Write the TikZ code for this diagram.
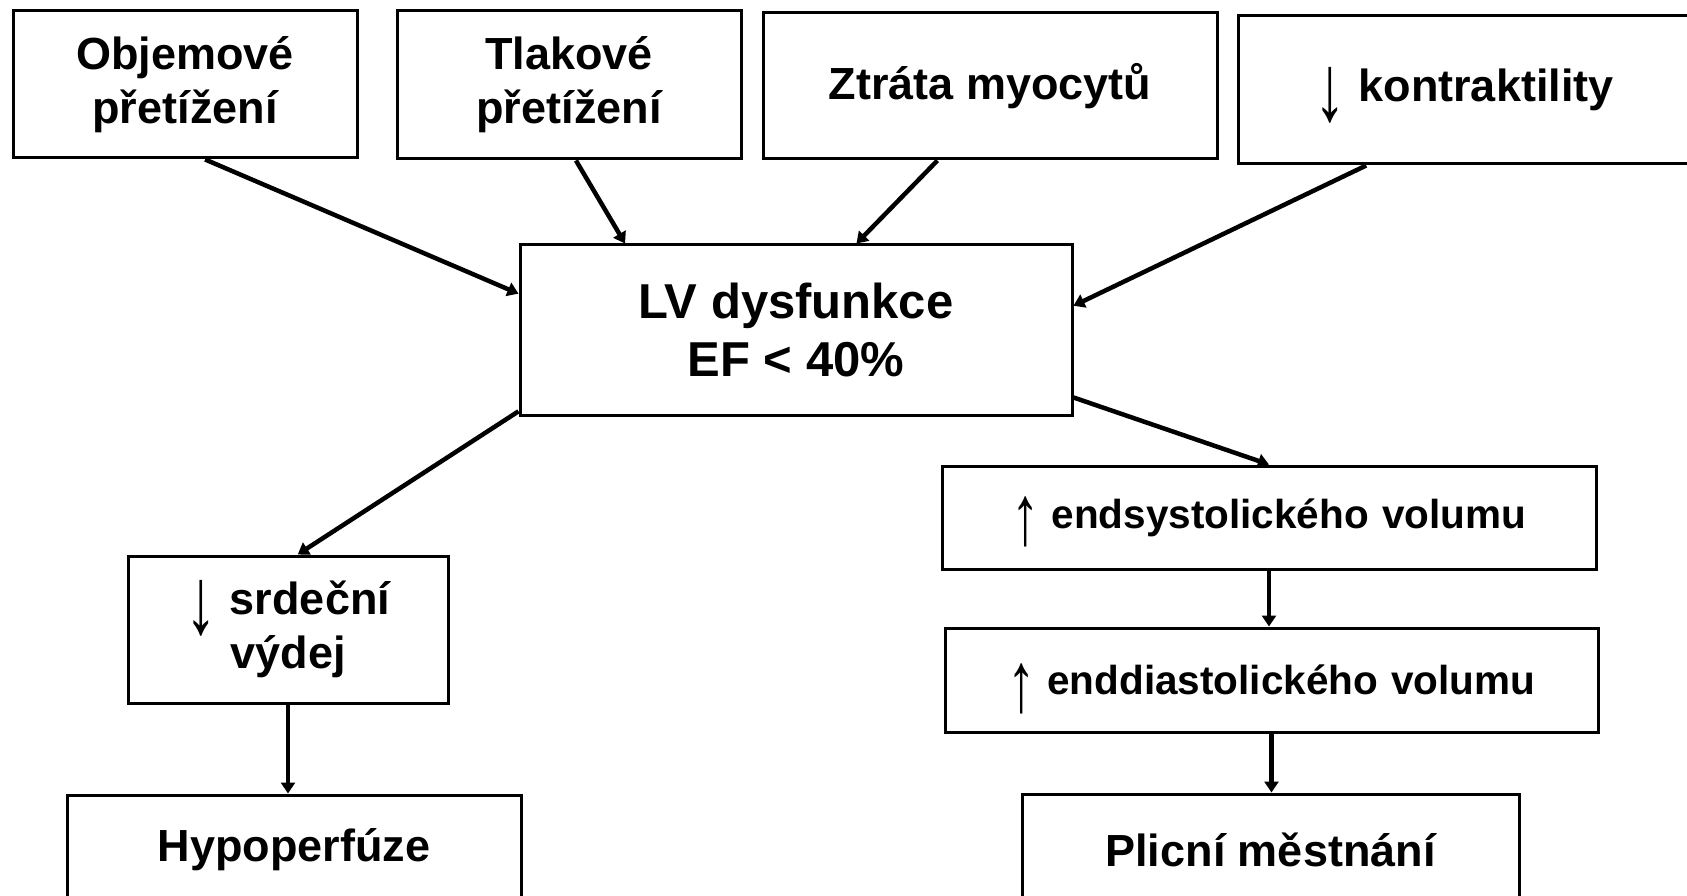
\documentclass[tikz,border=0pt]{standalone}
\usepackage{fontspec}
\usepackage{graphicx}
\setmainfont{Liberation Sans}
\usetikzlibrary{calc,arrows.meta}
% tall thin arrow glyphs, centred on the x-height, not affecting line height
\newcommand{\tallarrow}[1]{\smash{$\vcenter{\hbox{\scalebox{1.4}[2.1]{\mdseries #1}}}$}}
\newcommand{\uparr}{\tallarrow{↑}}
\newcommand{\downarr}{\tallarrow{↓}}
\begin{document}
\begin{tikzpicture}[x=1pt,y=-1pt,
  box/.style={draw=black,line width=3pt,align=center,inner sep=0pt,
    font=\bfseries\fontsize{45}{54}\selectfont},
  bigbox/.style={box,font=\bfseries\fontsize{49}{58}\selectfont},
  volbox/.style={box,font=\bfseries\fontsize{40.5}{48}\selectfont},
  conn/.style={line width=4.5pt,-{Triangle[length=11pt,width=14pt]}}]
\useasboundingbox (0,0) rectangle (1687,896);
\clip (0,0) rectangle (1687,896);

% causes
\node[box,minimum width=344pt,minimum height=147pt] (obj) at (185,84.5) {Objemové\\přetížení};
\node[box,minimum width=344pt,minimum height=148pt] (tlak) at (569,85) {Tlakové\\přetížení};
\node[box,minimum width=454pt,minimum height=146pt] (ztr) at (990,86) {Ztráta myocytů};
\node[box,minimum width=452pt,minimum height=148pt] (kon) at (1464,90) {\downarr\ kontraktility};

% central node
\node[bigbox,minimum width=552pt,minimum height=170pt] (lv) at (796,330) {LV dysfunkce\\EF < 40\%};

% right branch
\node[volbox,minimum width=654pt,minimum height=103pt] (esv) at (1269,517.5) {\uparr\ endsystolického\hspace{0.05em} volumu};
\node[volbox,minimum width=653pt,minimum height=104pt] (edv) at (1271.5,680) {\uparr\ enddiastolického\hspace{0.05em} volumu};
\node[box,minimum width=497pt,minimum height=111pt] (pm) at (1270.5,849.5) {Plicní městnání};

% left branch
\node[box,minimum width=320pt,minimum height=147pt] (sv) at (288,629.5) {\downarr\ srdeční\\výdej};
\node[box,minimum width=454pt,minimum height=110pt] (hp) at (294,850) {Hypoperfúze};

% connectors into the central node
\draw[conn] ($(obj.south west)!0.558!(obj.south east)$) -- ($(lv.north west)!0.29!(lv.south west)$);
\draw[conn] ($(tlak.south west)!0.52!(tlak.south east)$) -- ($(lv.north west)!0.192!(lv.north east)$);
\draw[conn] ($(ztr.south west)!0.385!(ztr.south east)$) -- ($(lv.north west)!0.609!(lv.north east)$);
\draw[conn] ($(kon.south west)!0.285!(kon.south east)$) -- ($(lv.north east)!0.36!(lv.south east)$);

% connectors out of the central node
\draw[conn] ($(lv.north west)!0.97!(lv.south west)$) -- ($(sv.north west)!0.53!(sv.north east)$);
\draw[conn] ($(lv.north east)!0.89!(lv.south east)$) -- (esv.north);
\draw[conn] (esv.south) -- (esv.south |- edv.north);
\draw[conn] (edv.south) -- (edv.south |- pm.north);
\draw[conn] (sv.south) -- (sv.south |- hp.north);
\end{tikzpicture}
\end{document}
